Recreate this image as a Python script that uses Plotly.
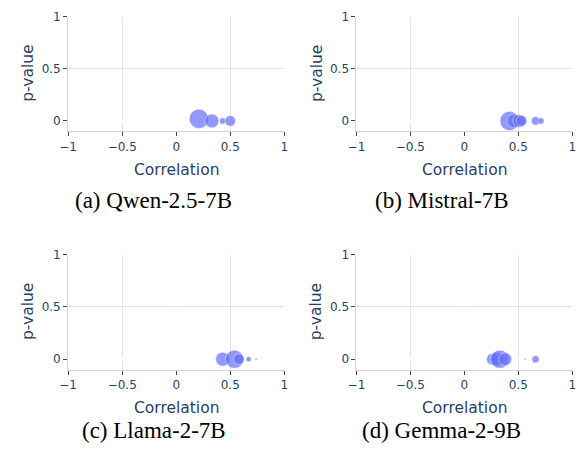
import plotly.graph_objects as go

# ---- data ----
titles = ["(a) Qwen-2.5-7B", "(b) Mistral-7B", "(c) Llama-2-7B", "(d) Gemma-2-9B"]

qwen_corr = [0.21, 0.33, 0.43, 0.50]
qwen_p = [0.02, 0.0, 0.0, 0.0]
qwen_size = [18, 13, 6, 10]

mistral_corr = [0.42, 0.46, 0.51, 0.53, 0.66, 0.71]
mistral_p = [0.0, 0.0, 0.0, 0.0, 0.0, 0.0]
mistral_size = [18, 13, 12, 10, 8, 6]

llama_corr = [0.43, 0.54, 0.58, 0.67, 0.74]
llama_p = [0.0, 0.0, 0.0, 0.0, 0.0]
llama_size = [13, 17, 10, 5, 2]

gemma_corr = [0.26, 0.30, 0.33, 0.38, 0.565, 0.66]
gemma_p = [0.0, 0.0, 0.0, 0.0, 0.0, 0.0]
gemma_size = [11, 13, 17, 12, 2, 7]

x_ticks = [-1, -0.5, 0, 0.5, 1]
x_ticktext = ["\u22121", "\u22120.5", "0", "0.5", "1"]
y_ticks = [0, 0.5, 1]
y_ticktext = ["0", "0.5", "1"]

series = [
    (qwen_corr, qwen_p, qwen_size),
    (mistral_corr, mistral_p, mistral_size),
    (llama_corr, llama_p, llama_size),
    (gemma_corr, gemma_p, gemma_size),
]

W, H = 587, 454
def px(x):
    return x / W
def py(y):
    return 1 - y / H

# plot-area pixel boxes: (left, right, top, bottom)
boxes = [
    (60.5, 281.5, 9.7, 126.3),
    (355.3, 576.0, 9.7, 126.3),
    (60.5, 281.5, 251.7, 368.3),
    (355.3, 576.0, 251.7, 368.3),
]
caption_dy = [70.5, 70.5, 61.5, 61.5]
SIZE_SCALE = 1.08

fig = go.Figure()
FONT = "DejaVu Sans"
TXT = "#2a3f5f"
annotations = []

for i, ((cx, cy, cs), box) in enumerate(zip(series, boxes)):
    n = "" if i == 0 else str(i + 1)
    fig.add_trace(go.Scatter(
        x=cx, y=cy, mode="markers",
        xaxis="x" + n, yaxis="y" + n,
        marker=dict(size=[s * SIZE_SCALE for s in cs], sizemode="diameter",
                    color="#636efa", opacity=0.7,
                    line=dict(color="white", width=0.6)),
        showlegend=False,
    ))
    l, r, t, b = box
    common = dict(showgrid=True, gridcolor="#e3e3e3", gridwidth=1,
                  zeroline=True, zerolinecolor="white", zerolinewidth=2,
                  showline=True, linecolor="#d5d5d5", linewidth=1,
                  ticks="outside", ticklen=4, tickcolor="#444",
                  tickfont=dict(family=FONT, size=12, color=TXT))
    fig.layout["xaxis" + n] = dict(domain=[px(l), px(r)], range=[-1, 1],
                                   tickvals=x_ticks, ticktext=x_ticktext,
                                   anchor="y" + n, **common)
    fig.layout["yaxis" + n] = dict(domain=[py(b), py(t)], range=[-0.1, 1],
                                   tickvals=y_ticks, ticktext=y_ticktext,
                                   anchor="x" + n, **common)
    mid = (l + r) / 2
    annotations.append(dict(text="Correlation", x=px(mid), y=py(b + 39), xref="paper", yref="paper",
                            showarrow=False, xanchor="center", yanchor="middle",
                            font=dict(family=FONT, size=15.5, color=TXT)))
    annotations.append(dict(text="p-value", x=px(l - 41), y=py(t + 58), xref="paper", yref="paper",
                            showarrow=False, xanchor="center", yanchor="middle", textangle=-90,
                            font=dict(family=FONT, size=15.5, color=TXT)))
    annotations.append(dict(text=titles[i], x=px(mid - 23), y=py(b + caption_dy[i]),
                            xref="paper", yref="paper",
                            showarrow=False, xanchor="center", yanchor="middle",
                            font=dict(family="Liberation Serif", size=23, color="black")))

fig.update_layout(width=W, height=H, margin=dict(l=0, r=0, t=0, b=0),
                  paper_bgcolor="white", plot_bgcolor="white",
                  annotations=annotations)
fig.write_html("out.html")
